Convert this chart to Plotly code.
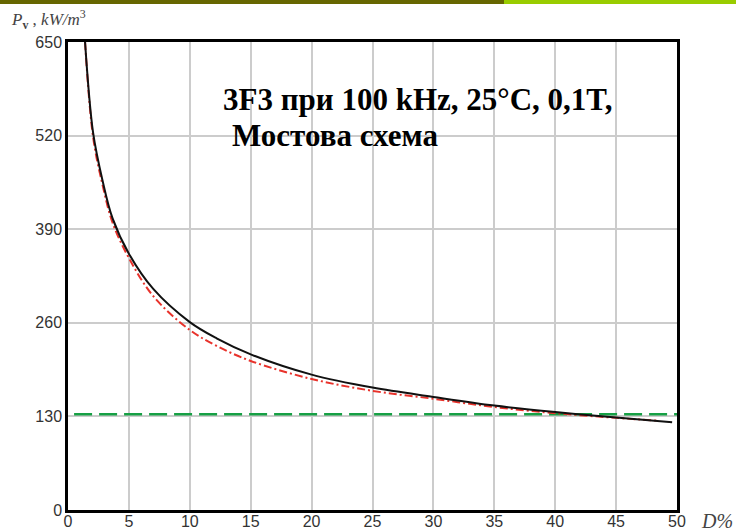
import plotly.graph_objects as go

# ---- data ----
d_black = [1.4, 2.06, 2.83, 3.66, 5, 7, 10, 12.2, 15.1, 20, 25, 30, 35, 40, 45, 49.6]
p_black = [650, 524, 458, 405, 356, 307, 261, 238.5, 215.5, 188, 170, 157, 145, 136, 128.5, 122]

d_red = [1.4, 2.06, 2.83, 3.66, 5, 7, 10, 12.2, 15, 20, 25, 30, 35, 40, 45, 48.5]
p_red = [650, 518, 452, 399, 350, 297, 250, 228, 207, 182, 165.5, 154.5, 143, 134.5, 128, 124]

d_green = [0.5, 50]
p_green = [133, 133]

x_ticks = [0, 5, 10, 15, 20, 25, 30, 35, 40, 45, 50]
y_ticks = [0, 130, 260, 390, 520, 650]

W, H = 736, 532
ML, MR, MT, MB = 68, 59, 42, 21.5
pw, ph = W - ML - MR, H - MT - MB

fig = go.Figure()
fig.add_trace(go.Scatter(x=d_green, y=p_green, mode="lines",
                         line=dict(color="#17a045", width=2.5, dash="18px,7px"),
                         showlegend=False, hoverinfo="skip"))
fig.add_trace(go.Scatter(x=d_red, y=p_red, mode="lines", line_shape="spline",
                         line=dict(color="#e8322b", width=2, dash="8px,3px,2px,3px"),
                         showlegend=False))
fig.add_trace(go.Scatter(x=d_black, y=p_black, mode="lines", line_shape="spline",
                         line=dict(color="#111111", width=2),
                         showlegend=False))

axis_common = dict(showgrid=True, gridcolor="#cccccc", gridwidth=1.5,
                   showline=True, linecolor="black", linewidth=2.5, mirror=True,
                   ticks="", zeroline=False, automargin=False,
                   tickfont=dict(family="Liberation Sans, Arial", size=16, color="#333333"))

fig.update_xaxes(range=[0, 50], tickvals=x_ticks, ticktext=[str(v) for v in x_ticks],
                 ticklabelstandoff=-5, **axis_common)
fig.update_yaxes(range=[0, 650], tickvals=y_ticks, ticktext=[str(v) for v in y_ticks], **axis_common)

def px_x(p):
    return (p - ML) / pw

def px_y(p):
    return 1 - (p - MT) / ph

shapes = [
    dict(type="rect", xref="paper", yref="paper", x0=px_x(0), x1=px_x(504),
         y0=px_y(4), y1=px_y(0), fillcolor="#666600", line_width=0, layer="above"),
    dict(type="rect", xref="paper", yref="paper", x0=px_x(504), x1=px_x(736),
         y0=px_y(4), y1=px_y(0), fillcolor="#99cc00", line_width=0, layer="above"),
]

serif = "Liberation Serif, Times New Roman"
annotations = [
    dict(text="<b>3F3 при 100 kHz, 25°C, 0,1T,</b>",
         xref="paper", yref="paper", x=px_x(221), y=px_y(100), xanchor="left", yanchor="middle",
         align="left", showarrow=False,
         font=dict(family=serif, size=31, color="black")),
    dict(text="<b>Мостова схема</b>",
         xref="paper", yref="paper", x=px_x(230), y=px_y(136), xanchor="left", yanchor="middle",
         align="left", showarrow=False,
         font=dict(family=serif, size=31, color="black")),
    dict(text="<i>P</i><sub><b>v</b></sub> , <i>kW/m</i><sup>3</sup>",
         xref="paper", yref="paper", x=px_x(9), y=px_y(19), xanchor="left", yanchor="middle",
         showarrow=False,
         font=dict(family=serif, size=17, color="#444444")),
    dict(text="<i>D%</i>",
         xref="paper", yref="paper", x=px_x(699), y=px_y(522), xanchor="left", yanchor="middle",
         showarrow=False,
         font=dict(family=serif, size=20, color="#444444")),
]

fig.update_layout(width=W, height=H, autosize=False,
                  margin=dict(l=ML, r=MR, t=MT, b=MB, pad=0),
                  plot_bgcolor="white", paper_bgcolor="white",
                  shapes=shapes, annotations=annotations)

fig.write_html("out.html")
